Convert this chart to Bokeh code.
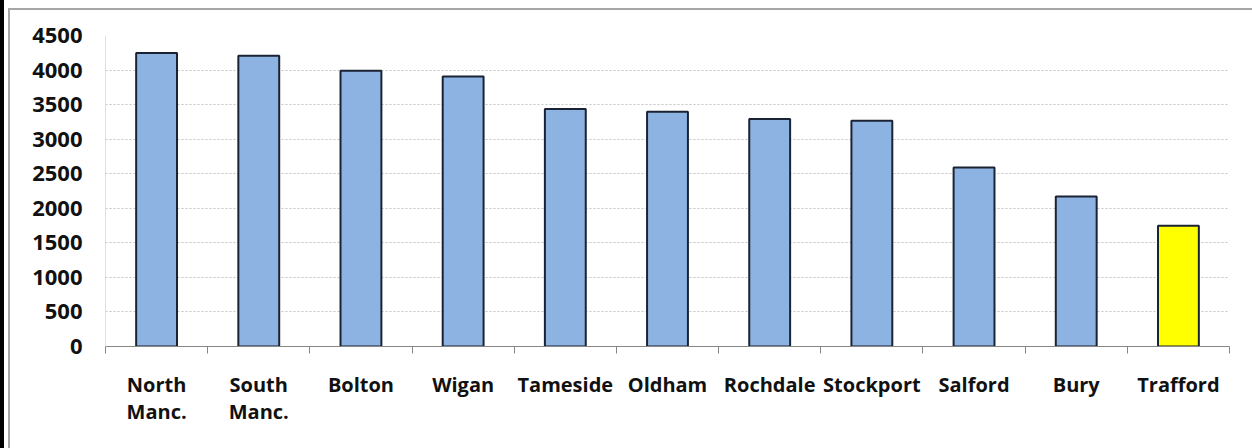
from bokeh.plotting import figure
from bokeh.models import ColumnDataSource, FixedTicker, Range1d
from bokeh.embed import file_html
from bokeh.resources import INLINE

# ---- data ----
categories = ["North\nManc.", "South\nManc.", "Bolton", "Wigan", "Tameside", "Oldham",
              "Rochdale", "Stockport", "Salford", "Bury", "Trafford"]
values = [4245, 4206, 3990, 3907, 3435, 3396, 3290, 3266, 2590, 2170, 1747]
y_ticks = [0, 500, 1000, 1500, 2000, 2500, 3000, 3500, 4000, 4500]
highlight = "Trafford"

# ---- styles ----
BLUE = "#8db3e2"
YELLOW = "#ffff00"
FONT = "Open Sans"

n = len(categories)
xs = [i + 0.5 for i in range(n)]
colors = [YELLOW if c == highlight else BLUE for c in categories]
src = ColumnDataSource(dict(x=xs, top=values, color=colors))

p = figure(width=1252, height=448, output_backend="svg", toolbar_location=None,
           x_range=Range1d(0, n), y_range=Range1d(0, 4500),
           min_border_left=105, min_border_right=23, min_border_top=35, min_border_bottom=102)

p.vbar(x="x", top="top", width=0.4, bottom=0, source=src, fill_color="color",
       line_color="#1a2333", line_width=2)

p.border_fill_color = None
p.background_fill_color = "white"
p.outline_line_color = None
p.styles = {
    "background-color": "white",
    "background-image": "linear-gradient(#000,#000), linear-gradient(#a6a6a6,#a6a6a6), linear-gradient(#a6a6a6,#a6a6a6)",
    "background-size": "4px 100%, 100% 2px, 2px 100%",
    "background-position": "0 0, 8px 8px, 8px 8px",
    "background-repeat": "no-repeat",
}

# x axis
p.xaxis.ticker = FixedTicker(ticks=xs, minor_ticks=list(range(n + 1)))
p.xaxis.major_label_overrides = {x: c for x, c in zip(xs, categories)}
p.xaxis.major_tick_out = 0
p.xaxis.major_tick_in = 0
p.xaxis.minor_tick_out = 7
p.xaxis.minor_tick_in = 0
p.xaxis.minor_tick_line_color = "#868686"
p.xaxis.axis_line_color = "#868686"
p.xaxis.major_label_standoff = 17
p.xaxis.major_label_text_font = FONT
p.xaxis.major_label_text_font_style = "bold"
p.xaxis.major_label_text_font_size = "20px"
p.xaxis.major_label_text_color = "#111111"
p.xaxis.major_label_text_line_height = 1.0

# y axis
p.yaxis.ticker = FixedTicker(ticks=y_ticks)
p.yaxis.major_tick_out = 0
p.yaxis.major_tick_in = 0
p.yaxis.minor_tick_line_color = None
p.yaxis.axis_line_color = "#e0e0e0"
p.yaxis.major_label_standoff = 23
p.yaxis.major_label_text_font = FONT
p.yaxis.major_label_text_font_style = "bold"
p.yaxis.major_label_text_font_size = "22px"
p.yaxis.major_label_text_color = "#111111"

p.xgrid.grid_line_color = None
p.ygrid.ticker = FixedTicker(ticks=y_ticks)
p.ygrid.grid_line_color = "#c4c4c4"
p.ygrid.grid_line_dash = "2 2"
p.ygrid.grid_line_width = 1

open("out.html", "w").write(file_html(p, INLINE))
